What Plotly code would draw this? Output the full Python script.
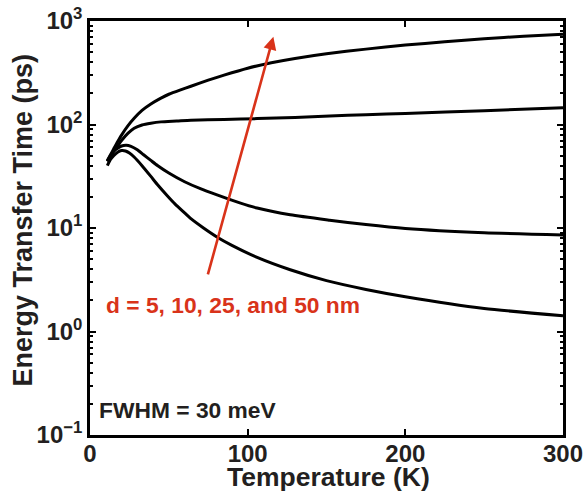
import plotly.graph_objects as go
import numpy as np

# Temperature (K) and energy transfer time (ps) for each separation d
T_d50 = [11, 13, 15, 17.5, 20, 24, 28, 33, 38.6, 45, 50, 57, 64, 75, 85, 100, 115, 130, 150, 175, 200, 225, 250, 275, 300]
tau_d50 = [45, 51, 58, 68, 79, 97, 115, 137, 158, 180, 196, 215, 234, 268, 300, 350, 395, 435, 483, 535, 585, 630, 675, 712, 745]

T_d25 = [11, 13, 15, 17.5, 20, 24, 28, 33, 38.6, 45, 55, 64, 85, 106, 130, 152, 175, 200, 250, 300]
tau_d25 = [44, 49, 55, 62, 70, 82, 92, 99, 103, 106, 108, 110, 112, 114, 117, 121, 124, 128, 136, 145]

T_d10 = [11, 13, 15, 17.5, 20, 23, 26, 30, 34, 38.6, 43, 50, 60, 70, 81, 95, 106, 127, 152, 175, 200, 250, 300]
tau_d10 = [44, 50, 55, 59, 62, 63, 61.5, 57, 51, 45, 40, 34, 28, 24, 20.8, 17.5, 15.6, 13.4, 11.9, 10.8, 9.9, 9.0, 8.55]

T_d5 = [11, 13, 15, 17.5, 20, 22.5, 25, 28, 33, 38.6, 43, 49, 54, 60, 64, 72, 81, 90, 106, 127, 150, 175, 200, 250, 300]
tau_d5 = [40, 46, 50, 54, 56, 55.5, 53, 48.5, 40, 31.5, 26, 20.5, 17, 14, 12.3, 10, 8.1, 6.8, 5.2, 3.95, 3.1, 2.55, 2.17, 1.67, 1.42]

x_ticks = [0, 100, 200, 300]
y_tick_vals = [0.1, 1, 10, 100, 1000]
y_tick_text = ["10<sup>−1</sup>", "10<sup>0</sup>", "10<sup>1</sup>", "10<sup>2</sup>", "10<sup>3</sup>"]
y_minor_vals = [m * 10.0 ** e for e in range(-1, 3) for m in range(2, 10)]

arrow_start = (74.5, 3.44)
arrow_end = (116.3, 705)

label_d = "d = 5, 10, 25, and 50 nm"
label_fwhm = "FWHM = 30 meV"
x_title = "Temperature (K)"
y_title = "Energy Transfer Time (ps)"

RED = "#d9331a"
DARK = "#231f20"
FONT = "Liberation Sans, Arial, Helvetica, sans-serif"

fig = go.Figure()
for T, tau in [(T_d5, tau_d5), (T_d10, tau_d10), (T_d25, tau_d25), (T_d50, tau_d50)]:
    fig.add_trace(go.Scatter(x=T, y=tau, mode="lines",
                             line=dict(color="black", width=3, shape="spline", smoothing=0.6),
                             showlegend=False, hoverinfo="skip"))

fig.add_annotation(x=arrow_end[0], y=np.log10(arrow_end[1]), ax=arrow_start[0], ay=np.log10(arrow_start[1]),
                   xref="x", yref="y", axref="x", ayref="y", showarrow=True,
                   arrowhead=2, arrowsize=1.0, arrowwidth=2.6, arrowcolor=RED, text="")
fig.add_annotation(x=0.029, y=0.314, xref="paper", yref="paper", text=label_d, showarrow=False,
                   xanchor="left", yanchor="middle",
                   font=dict(family=FONT, size=22.8, color=RED, weight="bold"))
fig.add_annotation(x=0.014, y=0.06, xref="paper", yref="paper", text=label_fwhm, showarrow=False,
                   xanchor="left", yanchor="middle",
                   font=dict(family=FONT, size=22.8, color=DARK, weight="bold"))
fig.add_annotation(x=0.504, y=-0.102, xref="paper", yref="paper", text=x_title, showarrow=False,
                   xanchor="center", yanchor="middle",
                   font=dict(family=FONT, size=26.5, color=DARK, weight="bold"))
fig.add_annotation(x=-0.142, y=0.52, xref="paper", yref="paper", text=y_title, showarrow=False,
                   xanchor="center", yanchor="middle", textangle=-90,
                   font=dict(family=FONT, size=27, color=DARK, weight="bold"))

axis_common = dict(showline=True, linecolor="black", linewidth=2.5, mirror="ticks",
                   ticks="inside", ticklen=6, tickwidth=2, tickcolor="black", showgrid=False,
                   zeroline=False, automargin=False, ticklabeloverflow="allow",
                   tickfont=dict(family=FONT, size=24, color=DARK, weight="bold"))

fig.update_xaxes(range=[0, 300], tickmode="array", tickvals=x_ticks, ticklabelstandoff=-5, **axis_common)
fig.update_yaxes(type="log", range=[-1, 3], tickmode="array", tickvals=y_tick_vals, ticktext=y_tick_text,
                 minor=dict(tickmode="array", tickvals=y_minor_vals, ticks="inside", ticklen=3,
                            tickwidth=1.5, tickcolor="black", showgrid=False),
                 **axis_common)

fig.update_layout(width=585, height=496, margin=dict(l=90, r=22, t=21, b=61),
                  plot_bgcolor="white", paper_bgcolor="white")
# remove the page's default 8px body margin so the figure fills the window exactly
fig.write_html("out.html", config={"displayModeBar": False},
               post_script="document.body.style.margin='0';document.body.style.overflow='hidden';")
